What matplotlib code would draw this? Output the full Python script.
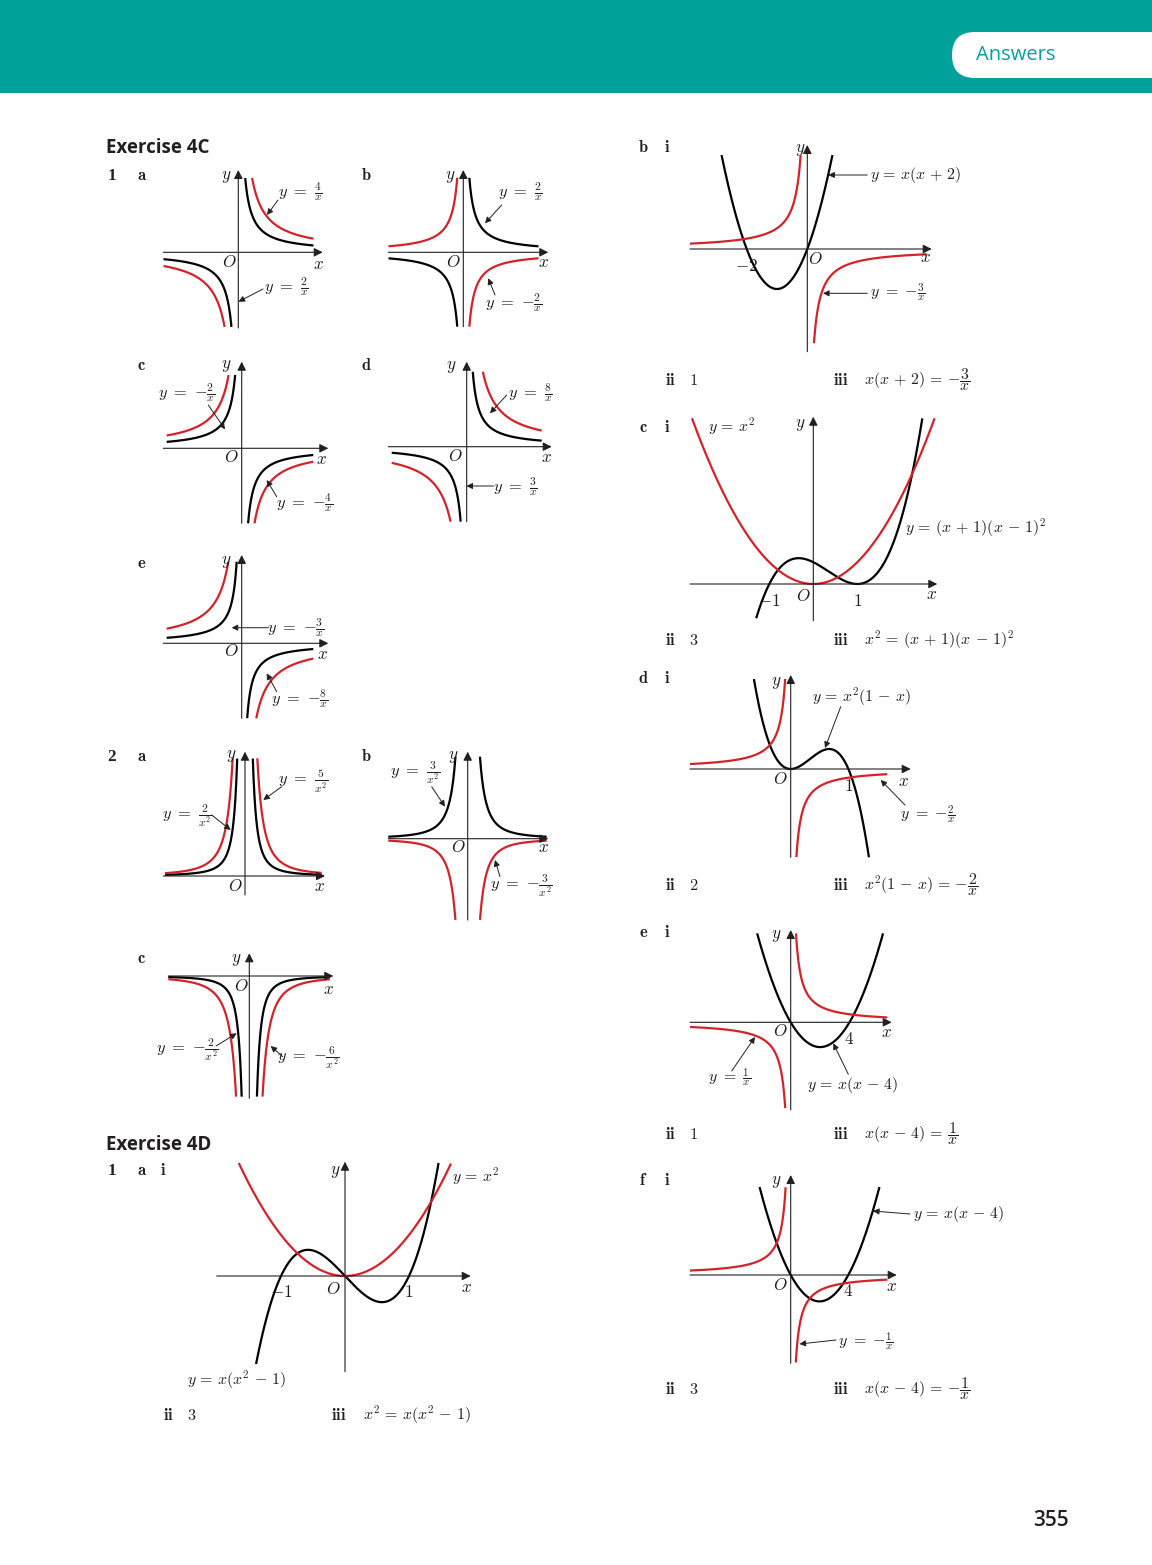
import numpy as np
import matplotlib.pyplot as plt
from matplotlib.patches import Rectangle, FancyBboxPatch

plt.rcParams['mathtext.fontset'] = 'cm'
plt.rcParams['font.family'] = ['Open Sans', 'DejaVu Sans']

W, H = 1152, 1565
TEAL = '#00a19a'
RED = '#d2232a'
INK = '#231f20'
FS = 11.8
FS_EQ = 11.4

# ---------------- data ----------------
# Exercise 4C: y = a / x**n, given as (n, a) for the black and the red curve of each part
EX4C_PARTS = [('1', 'a'), ('', 'b'), ('', 'c'), ('', 'd'), ('', 'e'), ('2', 'a'), ('', 'b'), ('', 'c')]
EX4C_BLACK = [(1, 2), (1, 2), (1, -2), (1, 3), (1, -3), (2, 2), (2, 3), (2, -2)]
EX4C_RED = [(1, 4), (1, -2), (1, -4), (1, 8), (1, -8), (2, 5), (2, -3), (2, -6)]

# Exercise 4D: black curves are polynomials (numpy coefficient order), red ones poly or a/x
EX4D_PARTS = ['a', 'b', 'c', 'd', 'e', 'f']
EX4D_BLACK = [[1, 0, -1, 0], [1, 2, 0], [1, -1, -1, 1], [-1, 1, 0, 0], [1, -4, 0], [1, -4, 0]]
EX4D_BLACK_NAMES = [r'$y\,=\,x(x^2\,-\,1)$', r'$y\,=\,x(x\,+\,2)$', r'$y\,=\,(x\,+\,1)(x\,-\,1)^2$',
                    r'$y\,=\,x^2(1\,-\,x)$', r'$y\,=\,x(x\,-\,4)$', r'$y\,=\,x(x\,-\,4)$']
EX4D_RED = [('poly', [1, 0, 0]), ('rec', (1, -3)), ('poly', [1, 0, 0]),
            ('rec', (1, -2)), ('rec', (1, 1)), ('rec', (1, -1))]
EX4D_TICKS = [[-1, 1], [-2], [-1, 1], [1], [4], [4]]
EX4D_COUNT = ['3', '1', '3', '2', '1', '3']
EX4D_EQNS = [r'$x^2\,=\,x(x^2\,-\,1)$', r'$x(x\,+\,2)\,=\,{-}\dfrac{3}{x}$',
             r'$x^2\,=\,(x\,+\,1)(x\,-\,1)^2$', r'$x^2(1\,-\,x)\,=\,{-}\dfrac{2}{x}$',
             r'$x(x\,-\,4)\,=\,\dfrac{1}{x}$', r'$x(x\,-\,4)\,=\,{-}\dfrac{1}{x}$']

# ---------------- layout (pixel positions on the page) ----------------
L4C = [
    dict(o=(238.3, 252.3), xa=(163.3, 322.7), ya=(170, 328), box=(163.5, 178, 313.5, 327), s=16,
         lab=((226, 176.7), (229.3, 263.3), (318.3, 265)), item=175,
         notes=[('r', (300, 191.7), (278, 200), (267, 215)), ('k', (286, 287), (263, 289), (238.5, 301.7))]),
    dict(o=(463.3, 252.3), xa=(388.3, 548.3), ya=(170, 326.7), box=(388.5, 177.7, 538.5, 326.7), s=15,
         lab=((450, 176.7), (453.3, 263.3), (543.3, 263.3)), item=175,
         notes=[('k', (520, 191.7), (501.7, 205), (485, 223.3)), ('r', (514, 303), (495, 295), (488.3, 278.3))]),
    dict(o=(241.7, 448.3), xa=(163.3, 328.3), ya=(361.7, 523.3), box=(166.7, 375, 313.3, 523.3), s=15.5,
         lab=((226.7, 366), (231.7, 458.3), (321.7, 460)), item=365,
         notes=[('k', (187, 393), (208.3, 405), (225, 429.3)), ('r', (305, 503), (276.7, 496.7), (266.7, 480))]),
    dict(o=(466.7, 446.7), xa=(388.3, 551.7), ya=(361.7, 521.7), box=(391.7, 371.7, 541.7, 521.7), s=12.3,
         lab=((451.7, 366.7), (455, 456.7), (546.7, 458.3)), item=365,
         notes=[('r', (530, 393), (506.7, 395), (490, 413.3)), ('k', (515, 486.7), (493.3, 486), (466.5, 486))]),
    dict(o=(241.7, 643.3), xa=(163.3, 328.3), ya=(555, 718.3), box=(166.7, 561.7, 313.3, 718.3), s=11.7,
         lab=((226.7, 561.7), (231.7, 651.7), (322.7, 655)), item=562.7,
         notes=[('k', (296, 628.3), (268.3, 627.7), (231.7, 627.7)), ('r', (300, 699.3), (276.7, 691.7), (266.7, 673.3))]),
    dict(o=(245, 876), xa=(163.3, 325), ya=(751.7, 895), box=(165, 758.3, 321.7, 895), s=15.3,
         lab=((231.7, 756), (235, 886.7), (320, 886.7)), item=756,
         notes=[('r', (303, 781.7), (281.7, 786.7), (263.3, 800)), ('k', (187, 816.7), (211.7, 815), (230.7, 830))]),
    dict(o=(467.7, 838.7), xa=(388.3, 548.3), ya=(751.7, 920), box=(388.3, 756.7, 546.7, 920), s=16,
         lab=((453.3, 756.7), (458.3, 848.3), (543.3, 848.3)), item=756,
         notes=[('k', (415, 773.3), (431.7, 786.7), (445, 806.7)), ('r', (521, 886.7), (500, 876.7), (495, 860))]),
    dict(o=(249.3, 976), xa=(168.3, 333.3), ya=(953.3, 1098.3), box=(168.3, 953, 330, 1096.7), s=15.2,
         lab=((236.7, 960), (241.7, 986.7), (328.3, 990)), item=958.3,
         notes=[('k', (187, 1050), (216, 1046), (236.7, 1033.3)), ('r', (308, 1058.3), (282.7, 1056.7), (270.7, 1046))]),
]
COL_X = [(111.7, 141.7), (None, 366.7)]

L4D = [
    dict(o=(345, 1276), xa=(216.7, 470.7), ya=(1161.7, 1371.7), box=(238, 1163, 451, 1364),
         sx=64, syk=68, syr=41, lab=((335, 1171.7), (333.3, 1290), (466.7, 1288.3)), ticky=1293.3,
         head=1170, left=True, row=1415,
         notes=[('r', (451.7, 1176.7), None, None), ('k', (187.3, 1380), None, None)]),
    dict(o=(807.3, 249), xa=(690, 931.7), ya=(145, 351.7), box=(690, 155, 926.7, 343.3),
         sx=30.3, syk=40, syr=6.9, lab=((800.7, 150), (815, 260), (926, 258.3)), ticky=266.7,
         head=146.7, left=False, row=380,
         notes=[('k', (870, 175), (867.3, 175), (828.3, 175)), ('r', (870, 293.3), (867.3, 293.3), (823, 293.3))]),
    dict(o=(813.3, 584), xa=(690, 937.3), ya=(416.7, 620.7), box=(690, 418.3, 936, 618.3),
         sx=44, syk=21.8, syr=21.8, lab=((800, 425), (803.3, 596.7), (931.7, 595)), ticky=601.7,
         head=426.7, left=False, row=640,
         notes=[('r', (708.3, 426.7), None, None), ('k', (905, 528.3), None, None)]),
    dict(o=(790.7, 769), xa=(690, 910.7), ya=(675, 857.3), box=(690, 679, 887.3, 857.3),
         sx=57.7, syk=135, syr=4.33, lab=((776.7, 683.3), (780, 780), (904, 781.7)), ticky=786.7,
         head=678.3, left=False, row=885,
         notes=[('k', (811.7, 696.7), (840.7, 706.7), (825, 748)), ('r', (900, 815), (905, 805), (880.7, 780))]),
    dict(o=(790.7, 1022.3), xa=(690, 891.7), ya=(930, 1110), box=(690, 933.3, 887.3, 1108.3),
         sx=14.7, syk=6.2, syr=32, lab=((776.7, 935.7), (780, 1032.3), (886.7, 1033.3)), ticky=1040,
         head=932.3, left=False, row=1134,
         notes=[('r', (708.3, 1078.3), (731.7, 1071), (755, 1037)), ('k', (806.7, 1085), (848.3, 1074.3), (833.3, 1043.3))]),
    dict(o=(790.7, 1275), xa=(690, 896.7), ya=(1175, 1363.3), box=(690, 1187, 887.3, 1362.7),
         sx=14.4, syk=6.6, syr=31, lab=((776.7, 1181.7), (780, 1286), (891.7, 1286.7)), ticky=1291.7,
         head=1180, left=False, row=1389,
         notes=[('k', (912.7, 1214), (910, 1214), (873, 1211)), ('r', (838.3, 1341.7), (836, 1340), (799.5, 1344))]),
]


def rec_label(n, a):
    sign = '{-}' if a < 0 else ''
    den = 'x' if n == 1 else 'x^{%d}' % n
    return r'$y\ =\ %s\frac{%d}{%s}$' % (sign, abs(a), den)


def values(kind, coef, u):
    if kind == 'poly':
        return np.polyval(coef, u)
    n, a = coef
    return a / u ** n


fig = plt.figure(figsize=(W / 100, H / 100), dpi=100)
bg = fig.add_axes([0, 0, 1, 1])
bg.set_xlim(0, W)
bg.set_ylim(H, 0)
bg.axis('off')
bg.add_patch(Rectangle((0, 0), W, 93, color=TEAL, lw=0))
bg.add_patch(FancyBboxPatch((952, 32), 260, 46, boxstyle='round,pad=0,rounding_size=23',
                            fc='white', ec='none'))
bg.text(976, 55, 'Answers', color=TEAL, fontsize=14.5, ha='left', va='center')
bg.text(1051, 1521, '355', color=INK, fontsize=15, fontweight='semibold', ha='center', va='center')
bg.text(106.5, 148.3, 'Exercise 4C', color=INK, fontsize=13.5, fontweight='bold', ha='left', va='center')
bg.text(106.5, 1145, 'Exercise 4D', color=INK, fontsize=13.5, fontweight='bold', ha='left', va='center')


def item(x, y, s):
    if s.isdigit():
        bg.text(x, y + 5, s, color=INK, fontsize=FS + 0.5, fontweight='bold',
                family='Liberation Serif', ha='center', va='baseline')
    else:
        bg.text(x, y + 5, r'$\mathbf{%s}$' % s, color=INK, fontsize=FS, ha='center', va='baseline')


def panel(lay):
    ox, oy = lay['o']
    xl, xr = lay['xa']
    yt, yb = lay['ya']
    pad = 90
    x0, x1, y0, y1 = xl - pad, xr + pad, yt - pad, yb + pad
    ax = fig.add_axes([x0 / W, 1 - y1 / H, (x1 - x0) / W, (y1 - y0) / H])
    ax.set_facecolor('none')
    ax.axis('off')
    ax.set_xlim(x0 - ox, x1 - ox)
    ax.set_ylim(oy - y1, oy - y0)
    ap = dict(arrowstyle='-|>', color=INK, lw=0.8, mutation_scale=13, shrinkA=0, shrinkB=0)
    ax.annotate('', xy=(xr - ox, 0), xytext=(xl - ox, 0), arrowprops=ap)
    ax.annotate('', xy=(0, oy - yt), xytext=(0, oy - yb), arrowprops=ap)
    loc = lambda p: (p[0] - ox, oy - p[1])
    ylab, olab, xlab = lay['lab']
    ax.text(*loc(ylab), '$y$', fontsize=FS + 0.5, ha='center', va='center', color=INK)
    ax.text(*loc(olab), '$O$', fontsize=FS + 0.5, ha='center', va='center', color=INK)
    ax.text(*loc(xlab), '$x$', fontsize=FS + 0.5, ha='center', va='center', color=INK)
    return ax, loc


def curve(ax, lay, kind, coef, sx, sy, color):
    ox, oy = lay['o']
    bx0, by0, bx1, by1 = lay['box']
    xs = np.linspace(bx0 - ox, bx1 - ox, 16001)
    xs = xs[xs != 0]
    with np.errstate(divide='ignore', invalid='ignore'):
        ys = sy * values(kind, coef, xs / sx)
    inside = (ys >= oy - by1) & (ys <= oy - by0)
    parts = [xs < 0, xs > 0] if kind == 'rec' else [np.ones_like(xs, bool)]
    for side in parts:
        keep = side & inside
        if keep.any():
            ax.plot(xs[keep], ys[keep], color=color, lw=1.6, solid_capstyle='butt')


def note(ax, loc, text, pos, tail, head, ha, size=FS):
    ax.text(*loc(pos), text, fontsize=size, ha=ha, va='center', color=INK)
    if tail is not None:
        ax.annotate('', xy=loc(head), xytext=loc(tail),
                    arrowprops=dict(arrowstyle='-|>', color=INK, lw=0.7, mutation_scale=9,
                                    shrinkA=0, shrinkB=0))


# Exercise 4C
for i, lay in enumerate(L4C):
    ax, loc = panel(lay)
    s = lay['s']
    curve(ax, lay, 'rec', EX4C_BLACK[i], s, s, 'black')
    curve(ax, lay, 'rec', EX4C_RED[i], s, s, RED)
    for which, pos, tail, head in lay['notes']:
        n, a = EX4C_BLACK[i] if which == 'k' else EX4C_RED[i]
        note(ax, loc, rec_label(n, a), pos, tail, head, 'center')
    num, letter = EX4C_PARTS[i]
    col = COL_X[0] if lay['o'][0] < 350 else COL_X[1]
    if num:
        item(col[0], lay['item'], num)
    item(col[1], lay['item'], letter)

# Exercise 4D
for i, lay in enumerate(L4D):
    ax, loc = panel(lay)
    sx = lay['sx']
    curve(ax, lay, 'poly', EX4D_BLACK[i], sx, lay['syk'], 'black')
    kind, coef = EX4D_RED[i]
    curve(ax, lay, kind, coef, sx, lay['syr'], RED)
    red_name = r'$y\,=\,x^2$' if kind == 'poly' else rec_label(*coef)
    for which, pos, tail, head in lay['notes']:
        text = EX4D_BLACK_NAMES[i] if which == 'k' else red_name
        note(ax, loc, text, pos, tail, head, 'left', FS_EQ)
    for t in EX4D_TICKS[i]:
        ax.text(sx * t, lay['o'][1] - lay['ticky'], '$%d$' % t, fontsize=FS + 0.5,
                ha='center', va='center', color=INK)
    if lay['left']:
        item(111.7, lay['head'], '1')
        item(141.7, lay['head'], EX4D_PARTS[i])
        item(163.3, lay['head'], 'i')
        xs = (168, 192, 339, 363)
    else:
        item(643.3, lay['head'], EX4D_PARTS[i])
        item(666.7, lay['head'], 'i')
        xs = (670, 693.3, 841, 864)
    r = lay['row']
    item(xs[0], r, 'ii')
    bg.text(xs[1], r + 5, '$%s$' % EX4D_COUNT[i], fontsize=FS, ha='center', va='baseline', color=INK)
    item(xs[2], r, 'iii')
    bg.text(xs[3], r, EX4D_EQNS[i], fontsize=FS_EQ, ha='left', va='center', color=INK)

fig.savefig('out.png', dpi=100)
